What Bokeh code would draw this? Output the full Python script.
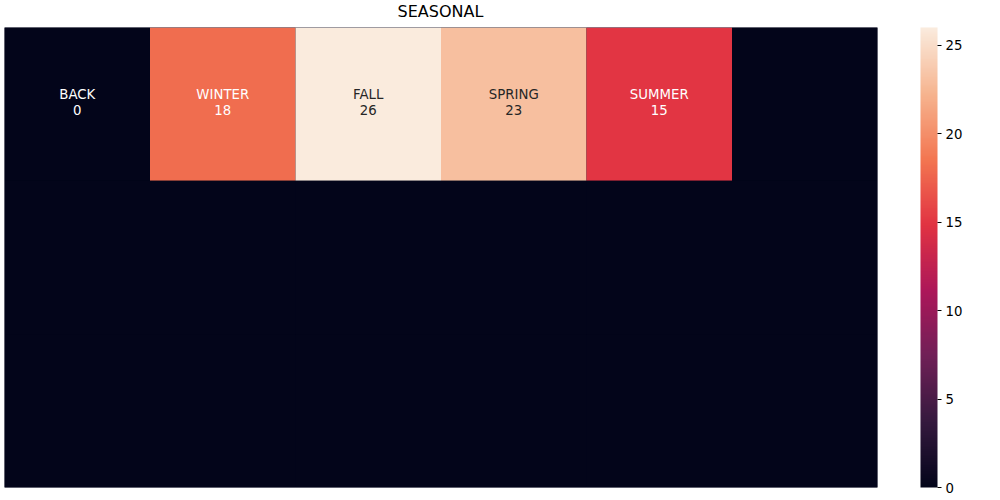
import numpy as np
from bokeh.plotting import figure
from bokeh.layouts import column
from bokeh.models import ColumnDataSource, LinearColorMapper, ColorBar, Range1d, FixedTicker, Div
from bokeh.core.properties import value
from bokeh.embed import file_html
from bokeh.resources import INLINE

title = "SEASONAL"
n_rows = 3
n_cols = 6
row0_labels = ["BACK", "WINTER", "FALL", "SPRING", "SUMMER", ""]
row0_values = [0, 18, 26, 23, 15, 0]
other_row_values = [0, 0, 0, 0, 0, 0]
cbar_ticks = [0, 5, 10, 15, 20, 25]
vmin, vmax = 0, 26

# rocket colormap stops
stops = ["#03051a", "#35193e", "#701f57", "#ad1759", "#e13342", "#f37651", "#f6b48f", "#faebdd"]

def hex2rgb(h):
    h = h.lstrip("#")
    return np.array([int(h[i:i + 2], 16) for i in (0, 2, 4)], dtype=float)

stop_rgb = np.array([hex2rgb(s) for s in stops])
stop_pos = np.linspace(0, 1, len(stops))
palette = []
for t in np.linspace(0, 1, 256):
    rgb = [np.interp(t, stop_pos, stop_rgb[:, k]) for k in range(3)]
    palette.append("#%02x%02x%02x" % tuple(int(round(c)) for c in rgb))

def lum(hexc):
    r, g, b = hex2rgb(hexc) / 255.0
    def f(c):
        return c / 12.92 if c <= 0.03928 else ((c + 0.055) / 1.055) ** 2.4
    return 0.2126 * f(r) + 0.7152 * f(g) + 0.0722 * f(b)

xs, ys, vals, texts, tcolors = [], [], [], [], []
for r in range(n_rows):
    row_vals = row0_values if r == 0 else other_row_values
    row_labs = row0_labels if r == 0 else [""] * n_cols
    for c in range(n_cols):
        v = row_vals[c]
        xs.append(c + 0.5)
        ys.append(r + 0.5)
        vals.append(v)
        lab = row_labs[c]
        texts.append(f"{lab}\n{v}" if lab else "")
        idx = int(round((v - vmin) / (vmax - vmin) * 255))
        tcolors.append("#262626" if lum(palette[idx]) > 0.408 else "#ffffff")

src = ColumnDataSource(dict(x=xs, y=ys, v=vals, t=texts, tc=tcolors))
mapper = LinearColorMapper(palette=palette, low=vmin, high=vmax)

p = figure(frame_width=873, frame_height=460, output_backend="svg", toolbar_location=None,
           x_range=Range1d(0, n_cols), y_range=Range1d(n_rows, 0),
           min_border_left=4, min_border_top=0, min_border_bottom=13, min_border_right=123)
p.axis.visible = False
p.xgrid.grid_line_color = None
p.ygrid.grid_line_color = None
p.outline_line_color = None
p.background_fill_color = palette[0]

p.rect(x="x", y="y", width=1, height=1, source=src,
       fill_color={"field": "v", "transform": mapper}, line_color=None)
p.text(x="x", y="y", text="t", source=src, text_align="center", text_baseline="middle",
       text_font=value("DejaVu Sans"), text_font_size="13.3px", text_color="tc",
       text_line_height=1.05, y_offset=-2)

cb = ColorBar(color_mapper=mapper, width=17, height=460, margin=0, padding=0,
              ticker=FixedTicker(ticks=cbar_ticks), major_label_text_font="DejaVu Sans",
              major_label_text_font_size="13.3px", major_label_text_color="#000000",
              major_tick_out=4, major_tick_in=0, major_tick_line_color="#000000",
              bar_line_color=None, border_line_color=None, background_fill_color=None,
              label_standoff=4, location=(916, 0))
p.add_layout(cb, "center")

head = Div(text=title, width=881, height=27, margin=(0, 0, 0, 0),
           styles={"text-align": "center", "font-family": "DejaVu Sans", "font-size": "16px",
                   "line-height": "24px", "color": "#000000", "width": "881px"})

layout = column(head, p, spacing=0)
open("out.html", "w").write(file_html(layout, INLINE))
